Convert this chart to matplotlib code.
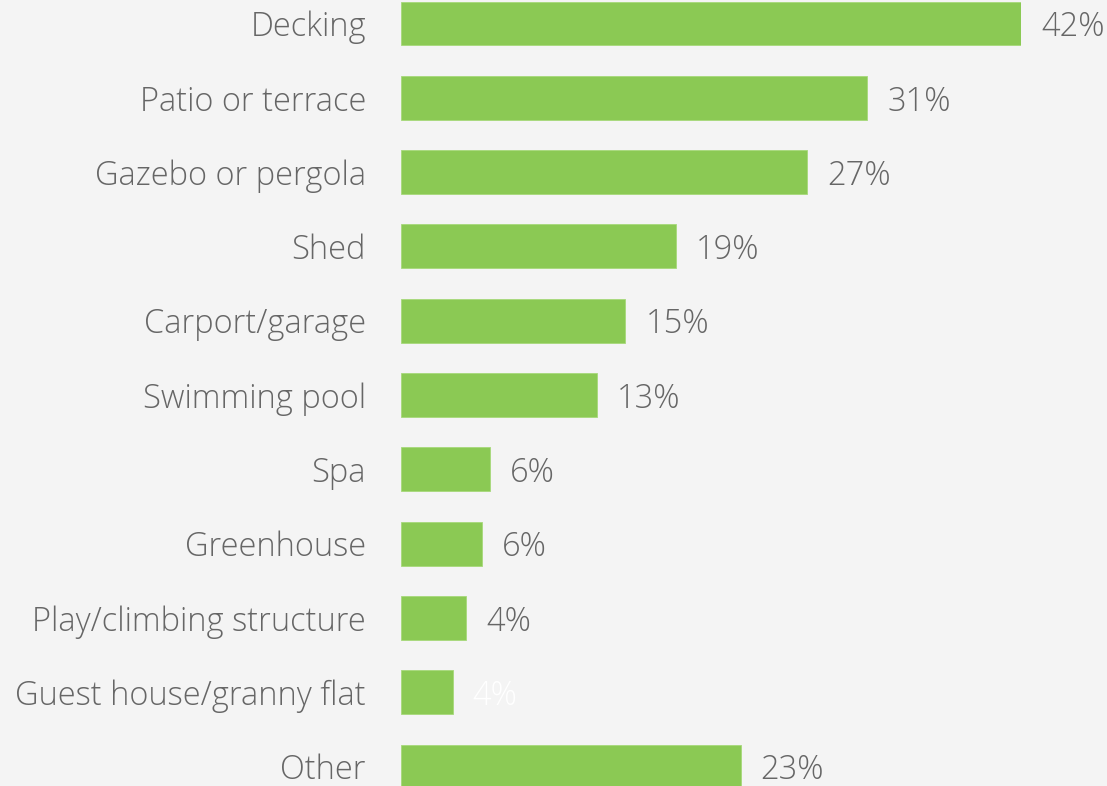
import matplotlib.pyplot as plt

categories = ["Decking", "Patio or terrace", "Gazebo or pergola", "Shed", "Carport/garage",
              "Swimming pool", "Spa", "Greenhouse", "Play/climbing structure",
              "Guest house/granny flat", "Other"]
values = [42.0, 31.6, 27.5, 18.6, 15.2, 13.3, 6.0, 5.5, 4.4, 3.5, 23.0]
labels = ["42%", "31%", "27%", "19%", "15%", "13%", "6%", "6%", "4%", "4%", "23%"]

bg = "#f4f4f4"
green = "#8bc954"
grey = "#666666"

W, H = 1107, 786
fig = plt.figure(figsize=(W / 100, H / 100), dpi=100, facecolor=bg)
ax = fig.add_axes([401 / W, 0, (1021 - 401) / W, 1])
ax.set_facecolor(bg)

pos = list(range(len(categories)))
ax.barh(pos, values, height=0.59, color=green, edgecolor="#a6d97a", linewidth=0.6)
ax.set_xlim(0, 42)
pitch = 74.3
ax.set_ylim((H - 23.5) / pitch, -23.5 / pitch)

font = dict(family=["Open Sans", "DejaVu Sans"], fontweight="light", fontsize=23.5)
px = 42 / (1021 - 401)  # data units per pixel
dy = 4.0 / pitch
for i, (c, v, lab) in enumerate(zip(categories, values, labels)):
    ax.text(-35 * px, i + dy, c, ha="right", va="center", color=grey, clip_on=False, **font)
    col = "white" if i == 9 else grey
    ax.text(v + 20 * px, i + dy, lab, ha="left", va="center", color=col, clip_on=False, **font)

ax.axis("off")
fig.savefig("out.png", dpi=100, facecolor=bg)
